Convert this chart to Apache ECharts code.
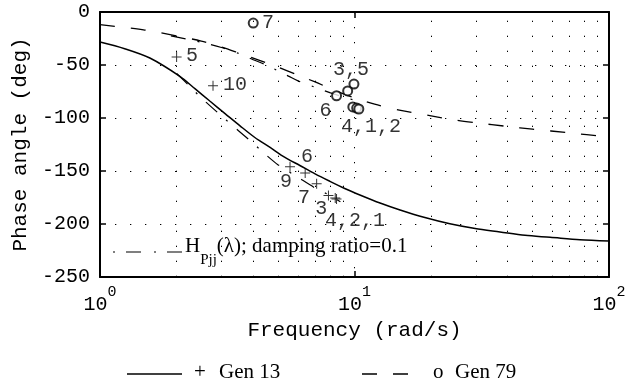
<!DOCTYPE html>
<html>
<head>
<meta charset="utf-8">
<script src="https://cdn.jsdelivr.net/npm/echarts@6/dist/echarts.min.js"></script>
<style>html,body{margin:0;padding:0;background:#fff}#c{width:634px;height:385px}</style>
</head>
<body>
<div id="c"></div>
<script>
// Gen 13 (solid) phase curve
const freqGen13 = [1,1.25,1.57,2.06,2.36,2.7,3.1,3.55,4.06,4.66,5.33,6.1,7.0,8.0,9.2,10.5,12.6,15.1,18.9,23.7,29.8,37.3,46.8,58.7,76.9,100];
const phaseGen13 = [-28.3,-34.6,-43.4,-60.7,-72.3,-84,-95.8,-107.4,-118.4,-127.8,-137.2,-144.8,-152.7,-159.7,-166.7,-172.6,-180.2,-186.8,-193.9,-199.8,-204.3,-207.5,-210.7,-212.5,-214.8,-216];
// Gen 79 (dashed) phase curve
const freqGen79 = [1,1.5,2,2.5,3,3.5,4,5,6,7,8,9,10,12,15,20,25,30,40,50,70,100];
const phaseGen79 = [-12,-17,-22.5,-27.5,-33,-38.5,-43.5,-52,-59.5,-66,-72,-77,-81,-87,-92.5,-98,-102,-104.5,-108,-110.5,-114,-118];
// H_Pjj (damping ratio 0.1) dash-dot curves
const freqHLow = [2,2.25,2.5,2.75,3,3.5,4,4.5,5,6,7,8,8.8];
const phaseHLow = [-58,-70,-81,-90,-98,-112,-124,-135,-144,-156,-166,-173,-179];
const freqHUp = [1.9,2.5,3,3.5,4,4.5,5,5.5,6,7,8,9,10.3];
const phaseHUp = [-22.5,-28.5,-33.5,-39,-45,-50,-55.5,-60.5,-65,-71,-76,-80,-84];
// mode markers
const modeFreq13 = [2.0,2.78,5.58,6.4,7.1,7.9,8.4,8.5];
const modePhase13 = [-42.5,-69.5,-146,-152,-162,-173,-175.5,-176.5];
const modeFreq79 = [4.0,9.95,9.4,8.5,9.85,10.2,10.4];
const modePhase79 = [-10.4,-68,-74.5,-79,-89.6,-90.6,-91.5];
// mode labels
const labText13 = ['5','10','6','9','7','3','4,2,1'];
const labFreq13 = [2.30,3.39,6.51,5.38,6.33,7.40,10.05];
const labPhase13 = [-41.5,-68.9,-136.8,-160.4,-175.5,-185.8,-197.2];
const labText79 = ['7','3,5','6','4,1,2'];
const labFreq79 = [4.57,9.69,7.7,11.6];
const labPhase79 = [-10.4,-54.7,-93.4,-108.5];
// grid / ticks
const gridFreqs = [2,3,4,5,6,7,8,9,20,30,40,50,60,70,80,90];
const yTicks = [0,-50,-100,-150,-200,-250];

const zip = (a,b) => a.map((v,i)=>[v,b[i]]);
const MONO = 'Liberation Mono';
const SERIF = 'Liberation Serif';
const plusPath = 'path://M4.5,0h1v4.5h4.5v1h-4.5v4.5h-1v-4.5h-4.5v-1h4.5z';

const chart = echarts.init(document.getElementById('c'));
const baseX = {
  type:'log', logBase:10, min:1, max:100,
  axisLine:{show:true, onZero:false, lineStyle:{color:'#000', width:2}},
  axisTick:{show:true, inside:true, length:6, lineStyle:{color:'#000', width:1.5}},
  minorTick:{show:false}
};
const baseY = {
  type:'value', min:yTicks[yTicks.length-1], max:yTicks[0], interval:50,
  axisLine:{show:true, onZero:false, lineStyle:{color:'#000', width:2}},
  axisTick:{show:true, inside:true, length:6, lineStyle:{color:'#000', width:1.5}}
};
const dots = {color:'#000', width:1, type:[1.3,13.7]};
const labelSeries = (texts, fs, ps) => ({
  type:'scatter', symbol:'circle', symbolSize:1, silent:true,
  itemStyle:{color:'rgba(0,0,0,0)'},
  label:{show:true, position:'inside', formatter:p=>p.name, fontFamily:MONO, fontSize:20, color:'#000'},
  data: texts.map((t,i)=>({name:t, value:[fs[i], ps[i]]})), z:5
});

chart.setOption({
  animation:false,
  backgroundColor:'#fff',
  grid:{left:100, right:25, top:12, bottom:108},
  xAxis:[
    Object.assign({}, baseX, {
      position:'bottom',
      name:'Frequency (rad/s)', nameLocation:'middle', nameGap:40,
      nameTextStyle:{fontFamily:MONO, fontSize:21, color:'#000'},
      splitLine:{show:true, lineStyle:dots},
      axisLabel:{show:true, interval:0, margin:8, color:'#000',
        formatter:v=>'{b|10}{s|'+Math.round(Math.log10(v))+'}',
        rich:{b:{fontFamily:MONO, fontSize:20, lineHeight:30, verticalAlign:'bottom', color:'#000'},
              s:{fontFamily:MONO, fontSize:15, verticalAlign:'top', color:'#000'}}}
    }),
    Object.assign({}, baseX, {position:'top', axisLabel:{show:false}, splitLine:{show:false}})
  ],
  yAxis:[
    Object.assign({}, baseY, {
      position:'left',
      name:'Phase angle (deg)', nameLocation:'middle', nameGap:55,
      nameTextStyle:{fontFamily:MONO, fontSize:21, color:'#000'},
      splitLine:{show:true, lineStyle:dots},
      axisLabel:{show:true, margin:10, fontFamily:MONO, fontSize:20, color:'#000'}
    }),
    Object.assign({}, baseY, {position:'right', axisLabel:{show:false}, splitLine:{show:false}})
  ],
  series:[
    {type:'line', name:'Gen 13', data:zip(freqGen13, phaseGen13), showSymbol:false, smooth:0.3,
     lineStyle:{color:'#000', width:1.5}, z:3,
     markLine:{silent:true, symbol:'none', label:{show:false}, lineStyle:dots, animation:false,
       data:gridFreqs.map(f=>({xAxis:f}))}},
    {type:'line', name:'Gen 79', data:zip(freqGen79, phaseGen79), showSymbol:false, smooth:0.3,
     lineStyle:{color:'#000', width:1.3, type:[15,16]}, z:3},
    {type:'line', name:'H low', data:zip(freqHLow, phaseHLow), showSymbol:false, smooth:0.3,
     lineStyle:{color:'#000', width:1.2, type:[15,12,2,12]}, z:3},
    {type:'line', name:'H up', data:zip(freqHUp, phaseHUp), showSymbol:false, smooth:0.3,
     lineStyle:{color:'#000', width:1.2, type:[15,12,2,12]}, z:3},
    {type:'scatter', data:zip(modeFreq13, modePhase13), symbol:plusPath, symbolSize:10,
     itemStyle:{color:'#000'}, z:4},
    {type:'scatter', data:zip(modeFreq79, modePhase79), symbol:'emptyCircle', symbolSize:9,
     itemStyle:{color:'#000', borderColor:'#000', borderWidth:1.2}, z:4},
    labelSeries(labText13, labFreq13, labPhase13),
    labelSeries(labText79, labFreq79, labPhase79)
  ],
  graphic:[
    {type:'line', shape:{x1:113, y1:252, x2:183, y2:252}, style:{stroke:'#000', lineWidth:1.2, lineDash:[2,11,15,13]}, z:10},
    {type:'text', left:185, top:236, z:10, style:{
      text:'{n|H}{s|Pjj}{n|(λ); damping ratio=0.1}',
      rich:{n:{fontFamily:SERIF, fontSize:21, lineHeight:32, verticalAlign:'top', fill:'#000'},
            s:{fontFamily:SERIF, fontSize:15, verticalAlign:'bottom', fill:'#000'}}}},
    {type:'line', shape:{x1:127, y1:374, x2:182, y2:374}, style:{stroke:'#000', lineWidth:1.3}},
    {type:'text', left:194, top:362, style:{text:'+', fontFamily:SERIF, fontSize:21, fill:'#000'}},
    {type:'text', left:219, top:362, style:{text:'Gen 13', fontFamily:SERIF, fontSize:21, fill:'#000'}},
    {type:'line', shape:{x1:362, y1:374, x2:409, y2:374}, style:{stroke:'#000', lineWidth:1.3, lineDash:[15,16]}},
    {type:'text', left:433, top:362, style:{text:'o', fontFamily:SERIF, fontSize:21, fill:'#000'}},
    {type:'text', left:455, top:362, style:{text:'Gen 79', fontFamily:SERIF, fontSize:21, fill:'#000'}}
  ]
});
</script>
</body>
</html>
